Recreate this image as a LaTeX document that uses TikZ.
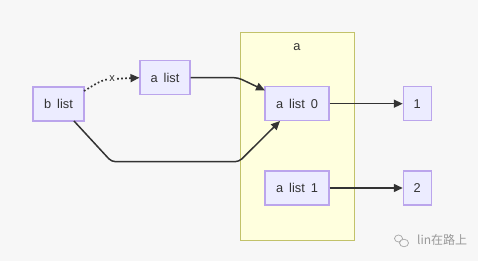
\documentclass[tikz,border=0pt]{standalone}
\usepackage{fontspec}
\setmainfont{Liberation Sans}
\newfontfamily\cjk{Noto Sans CJK SC}
\usetikzlibrary{arrows.meta}
\definecolor{bgc}{HTML}{F7F7F7}
\definecolor{nodefill}{HTML}{ECECFF}
\definecolor{nodeline}{HTML}{BBA5EC}
\definecolor{clfill}{HTML}{FFFFDE}
\definecolor{clline}{HTML}{C2C26A}
\definecolor{edgec}{HTML}{333333}
\definecolor{txt}{HTML}{333333}
\begin{document}
\begin{tikzpicture}[x=1pt,y=-1pt,
  box/.style={draw=nodeline,fill=nodefill,line width=1.1pt,inner sep=0pt,
    minimum height=34pt,text=txt,font={\fontsize{12.8}{14}\selectfont\spaceskip=6pt\relax}},
  edge/.style={draw=edgec,line width=1.5pt},
  tip/.style={-{Triangle[length=9pt,width=8pt]}},
]
\useasboundingbox[fill=bgc] (0,0) rectangle (478,261);
% cluster
\node[draw=clline,fill=clfill,line width=1pt,minimum width=113.7pt,minimum height=208.3pt,anchor=north west,inner sep=0pt] (cl) at (240,31.7) {};
\node[text=txt,font=\fontsize{12.8}{14}\selectfont] (cllab) at (297,47) {a};
% nodes
\node[box,minimum width=51pt] (blist) at (58.5,104) {b list};
\node[box,minimum width=50pt] (alist) at (165,77.7) {a list};
\node[box,minimum width=64pt] (al0) at (297,103.7) {a list 0};
\node[box,minimum width=64pt] (al1) at (297,188) {a list 1};
\node[box,minimum width=28pt] (n1) at (417.3,103.7) {1};
\node[box,minimum width=28pt] (n2) at (417.3,188) {2};
% coordinates
\coordinate (b0) at (84,91);
\coordinate (d1) at (112,79);
\coordinate (a1) at (238,77.7);
\coordinate (bl1) at (74,121);
\coordinate (bl2) at (111.5,161.7);
\coordinate (bl3) at (239,161.7);
\coordinate (t0) at (265,90.5);
\coordinate (t1) at (280,121);
% edges
\draw[edge,line width=1.7pt,dash pattern=on 1.7pt off 2.3pt,tip] (b0) .. controls (96,84) and (102,79) .. (d1) -- (alist.west);
\node[text=edgec,font=\fontsize{11}{12}\selectfont,fill=bgc,inner sep=0.3pt] (xl) at (d1) {x};
\draw[edge,tip,rounded corners=4pt] (alist.east) -- (a1) -- (t0);
\draw[edge,tip,rounded corners=4pt] (bl1) -- (bl2) -- (bl3) -- (t1);
\draw[edge,tip] (al0.east) -- (n1.west);
\draw[edge,tip] (al1.east) -- (n2.west);
% watermark
\node[text=gray!80,font={\cjk\fontsize{12}{14}\selectfont},anchor=west,inner sep=0pt] (wm) at (417,240) {lin在路上};
\draw[gray!70,line width=0.7pt] (398.5,238.5) circle[x radius=4pt,y radius=3.5pt];
\draw[gray!70,line width=0.7pt,fill=bgc] (404,243) circle[x radius=4.5pt,y radius=3.8pt];
\end{tikzpicture}
\end{document}
